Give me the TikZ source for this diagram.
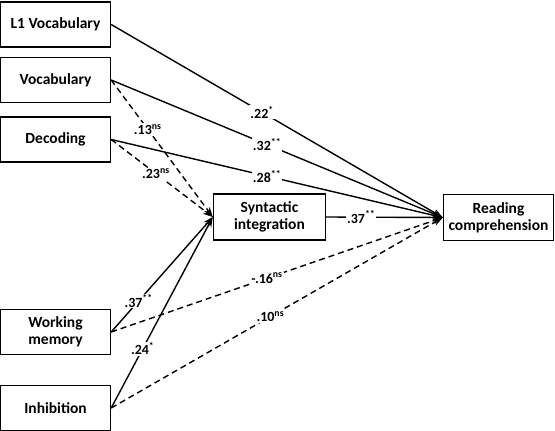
\documentclass[tikz,border=0pt]{standalone}
\usepackage{fontspec}
\setmainfont{Carlito}
\usetikzlibrary{arrows.meta}
\begin{document}
\begin{tikzpicture}[x=1pt,y=-1pt,
  box/.style={draw,line width=1.4pt,font=\fontsize{15.5}{17}\selectfont\bfseries,align=center,inner sep=0pt},
  lbox/.style={box,minimum width=110pt,minimum height=45pt},
  path/.style={line width=1.4pt,-{Stealth[length=10pt,width=7pt]}},
  ns/.style={path,dash pattern=on 6pt off 4pt},
  lab/.style={fill=white,inner sep=1pt,font=\fontsize{14}{16}\selectfont\bfseries}]
\useasboundingbox (0,0) rectangle (555,431);
\node[lbox] (l1) at (55.5,24.5) {L1 Vocabulary};
\node[lbox] (voc) at (55.5,80) {Vocabulary};
\node[lbox] (dec) at (55.5,139.5) {Decoding};
\node[lbox] (wm) at (55.5,332) {Working\\memory};
\node[lbox] (inh) at (55.5,408) {Inhibition};
\node[box,minimum width=112pt,minimum height=46pt] (syn) at (269.5,217) {Syntactic\\integration};
\node[box,minimum width=110pt,minimum height=46pt] (rc) at (498.5,217.5) {Reading\\comprehension};
% paths to syntactic integration
\draw[ns] (voc.east) -- node[lab,pos=0.36] {.13\textsuperscript{ns}} (syn.west);
\draw[ns] (dec.east) -- node[lab,pos=0.44] {.23\textsuperscript{ns}} (syn.west);
\draw[path] (wm.east) -- node[lab,pos=0.27] {.37\textsuperscript{**}} (syn.west);
\draw[path] (inh.east) -- node[lab,pos=0.31] {.24\textsuperscript{*}} (syn.west);
% paths to reading comprehension
\draw[path] (l1.east) -- node[lab,pos=0.455] {.22\textsuperscript{*}} (rc.west);
\draw[path] (voc.east) -- node[lab,pos=0.47] {.32\textsuperscript{**}} (rc.west);
\draw[path] (dec.east) -- node[lab,pos=0.47] {.28\textsuperscript{**}} (rc.west);
\draw[path] (syn.east) -- node[lab,pos=0.3] {.37\textsuperscript{**}} (rc.west);
\draw[ns] (wm.east) -- node[lab,pos=0.47] {-.16\textsuperscript{ns}} (rc.west);
\draw[ns] (inh.east) -- node[lab,pos=0.48] {.10\textsuperscript{ns}} (rc.west);
\end{tikzpicture}
\end{document}
